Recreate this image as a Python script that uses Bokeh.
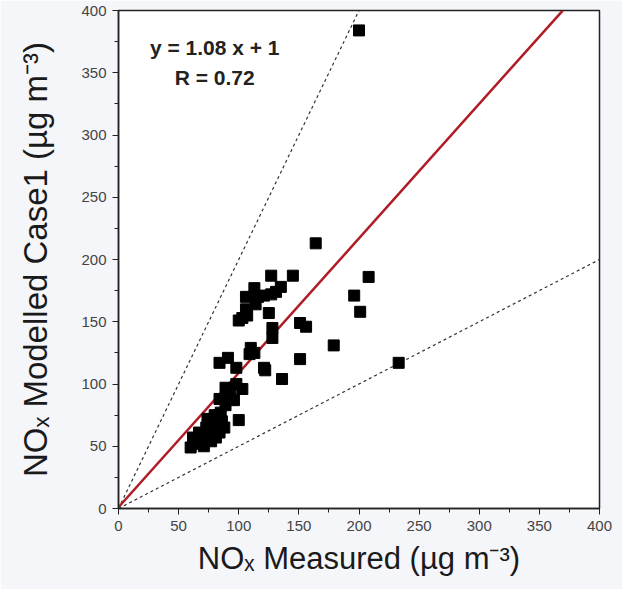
from bokeh.plotting import figure
from bokeh.models import Range1d, SingleIntervalTicker, Label
from bokeh.embed import file_html
from bokeh.resources import INLINE

measured = [200, 164, 208, 196, 201, 145, 127, 179, 233, 151, 136, 151, 156, 128, 128, 125,
            121, 122, 110, 113, 113, 135, 106, 116, 121, 127, 131, 114, 106, 103, 100, 91,
            84, 98, 109, 89, 98, 103, 93, 96, 89, 85, 82, 100, 77, 73, 67, 62, 64, 71, 60,
            88, 84, 81, 77, 107, 86, 80, 75, 70, 68, 92, 84, 79, 74]
modelled = [384, 213, 186, 171, 158, 187, 187, 131, 117, 120, 104, 149, 146, 145, 137, 157,
            113, 111, 129, 125, 177, 178, 170, 170, 171, 172, 174, 164, 160, 153, 151, 121,
            117, 113, 124, 97, 100, 96, 91, 87, 83, 77, 72, 71, 68, 65, 61, 57, 53, 50, 49,
            65, 61, 57, 54, 155, 70, 75, 62, 58, 52, 95, 88, 66, 72]

fit_x = [0, 369.4]
fit_y = [1.08 * v + 1 for v in fit_x]
upper_x = [0, 200]
upper_y = [2 * v for v in upper_x]
lower_x = [0, 400]
lower_y = [0.5 * v for v in lower_x]

p = figure(width=622, height=589, output_backend="svg", toolbar_location=None,
           x_range=Range1d(0, 400), y_range=Range1d(0, 400),
           min_border_left=118, min_border_right=23, min_border_top=10, min_border_bottom=81)
p.background_fill_color = "white"
p.border_fill_color = "#f5f6fa"
p.outline_line_color = "#222222"
p.outline_line_width = 1.5
p.xgrid.visible = False
p.ygrid.visible = False

for ax in (p.xaxis[0], p.yaxis[0]):
    ax.ticker = SingleIntervalTicker(interval=50, num_minor_ticks=2)
    ax.major_tick_out = 6
    ax.major_tick_in = 0
    ax.minor_tick_out = 4
    ax.minor_tick_in = 0
    ax.axis_line_color = "#222222"
    ax.axis_line_width = 1.5
    ax.major_tick_line_color = "#222222"
    ax.minor_tick_line_color = "#222222"
    ax.major_label_text_font = "Liberation Sans"
    ax.major_label_text_font_size = "15px"
    ax.major_label_text_color = "#444444"
    ax.major_label_standoff = 6
    ax.axis_label_text_font = "Liberation Sans"
    ax.axis_label_text_font_style = "normal"
    ax.axis_label_text_color = "#1a1a1a"

p.xaxis.axis_label = "NOₓ Measured (µg m⁻³)"
p.yaxis.axis_label = "NOₓ Modelled Case1 (µg m⁻³)"
p.xaxis.axis_label_text_font_size = "31px"
p.yaxis.axis_label_text_font_size = "33px"
p.xaxis.axis_label_standoff = 7
p.yaxis.axis_label_standoff = 24

p.line(upper_x, upper_y, line_color="#333333", line_width=1.2, line_dash="3 3")
p.line(lower_x, lower_y, line_color="#333333", line_width=1.2, line_dash="3 3")
p.line(fit_x, fit_y, line_color="#b01c26", line_width=2.5)
p.scatter(measured, modelled, marker="square", size=11, fill_color="black", line_color="black")

p.add_layout(Label(x=80, y=370, text="y = 1.08 x + 1", text_align="center", text_baseline="middle",
                   text_font="Liberation Sans", text_font_size="21px", text_font_style="bold",
                   text_color="#222222"))
p.add_layout(Label(x=80, y=346, text="R = 0.72", text_align="center", text_baseline="middle",
                   text_font="Liberation Sans", text_font_size="21px", text_font_style="bold",
                   text_color="#222222"))

open("out.html", "w").write(file_html(p, INLINE))
